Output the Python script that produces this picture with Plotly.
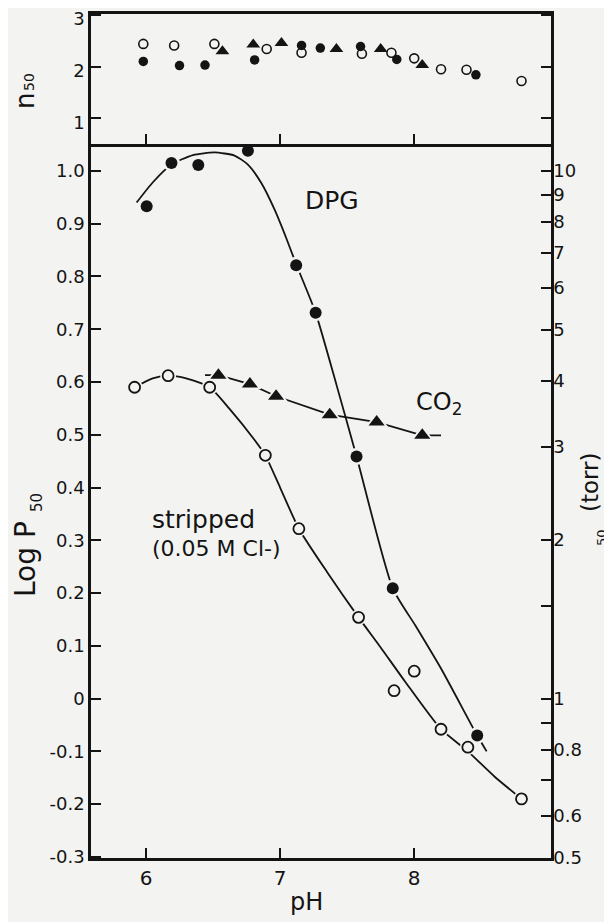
import math
import plotly.graph_objects as go

# ---------------- data ----------------
# top panel: n50 vs pH
n50_strip_ph = [5.98, 6.21, 6.51, 6.90, 7.16, 7.61, 7.83, 8.00, 8.20, 8.39, 8.80]
n50_strip = [2.44, 2.41, 2.44, 2.34, 2.27, 2.25, 2.27, 2.16, 1.95, 1.94, 1.72]
n50_dpg_ph = [5.98, 6.25, 6.44, 6.81, 7.16, 7.30, 7.60, 7.87, 8.46]
n50_dpg = [2.10, 2.02, 2.03, 2.13, 2.41, 2.36, 2.39, 2.14, 1.84]
n50_co2_ph = [6.57, 6.80, 7.01, 7.42, 7.75, 8.06]
n50_co2 = [2.30, 2.43, 2.46, 2.34, 2.34, 2.03]

# main panel: log P50 vs pH
dpg_ph = [6.005, 6.19, 6.39, 6.76, 7.12, 7.265, 7.57, 7.84, 8.47]
dpg_logp = [0.933, 1.015, 1.011, 1.038, 0.821, 0.731, 0.459, 0.209, -0.070]
strip_ph = [5.915, 6.165, 6.475, 6.89, 7.14, 7.585, 7.85, 8.00, 8.20, 8.40, 8.80]
strip_logp = [0.590, 0.612, 0.590, 0.461, 0.322, 0.154, 0.015, 0.052, -0.058, -0.092, -0.190]
co2_ph = [6.54, 6.775, 6.97, 7.37, 7.72, 8.06]
co2_logp = [0.613, 0.596, 0.573, 0.538, 0.524, 0.499]

# drawn curves
dpg_curve_ph = [5.93, 6.05, 6.19, 6.35, 6.51, 6.66, 6.76, 6.86, 6.96, 7.05, 7.12, 7.265, 7.42, 7.57, 7.84, 8.01, 8.20, 8.47, 8.54]
dpg_curve_logp = [0.940, 0.978, 1.012, 1.030, 1.035, 1.029, 1.012, 0.977, 0.926, 0.870, 0.823, 0.731, 0.595, 0.459, 0.209, 0.138, 0.057, -0.070, -0.100]
strip_curve_ph = [5.915, 6.05, 6.165, 6.30, 6.475, 6.62, 6.81, 6.89, 7.00, 7.14, 7.35, 7.585, 7.75, 7.93, 8.20, 8.40, 8.60, 8.80]
strip_curve_logp = [0.590, 0.607, 0.612, 0.607, 0.590, 0.550, 0.490, 0.461, 0.400, 0.322, 0.240, 0.154, 0.097, 0.033, -0.058, -0.100, -0.148, -0.190]
co2_curve_ph = [6.44, 6.54, 6.775, 6.97, 7.37, 7.72, 8.06, 8.20]
co2_curve_logp = [0.613, 0.613, 0.596, 0.573, 0.538, 0.524, 0.499, 0.499]

# axis ticks
x_ticks = [6, 7, 8]
logp_ticks = [1.0, 0.9, 0.8, 0.7, 0.6, 0.5, 0.4, 0.3, 0.2, 0.1, 0.0, -0.1, -0.2, -0.3]
logp_labels = ["1.0", "0.9", "0.8", "0.7", "0.6", "0.5", "0.4", "0.3", "0.2", "0.1", "0", "-0.1", "-0.2", "-0.3"]
p50_ticks = [10, 9, 8, 7, 6, 5, 4, 3, 2, 1.5, 1, 0.9, 0.8, 0.7, 0.6, 0.5]
p50_labels = ["10", "9", "8", "7", "6", "5", "4", "3", "2", " ", "1", " ", "0.8", " ", "0.6", "0.5"]
n50_ticks = [1, 2, 3]

# ---------------- styling ----------------
BG = "#f3f3f1"
INK = "#141414"
FONT = "DejaVu Sans"
X_RANGE = [5.59, 9.02]
Y_RANGE = [-0.302, 1.051]
SPLIT = 0.846
OFF = 8                     # page body margin
W, H = 612 - OFF, 922 - OFF
ML, MR, MT, MB = 91 - OFF, 61, 14 - OFF, 64

fig = go.Figure()


def halo(x, y, size, xa="x", ya="y", symbol="circle"):
    fig.add_trace(go.Scatter(x=x, y=y, mode="markers", xaxis=xa, yaxis=ya,
                             marker=dict(symbol=symbol, size=size, color=BG,
                                         line=dict(width=0)),
                             hoverinfo="skip"))


# curves
for cx, cy in [(dpg_curve_ph, dpg_curve_logp), (strip_curve_ph, strip_curve_logp)]:
    fig.add_trace(go.Scatter(x=cx, y=cy, mode="lines",
                             line=dict(color=INK, width=1.8, shape="spline", smoothing=0.6),
                             hoverinfo="skip"))
fig.add_trace(go.Scatter(x=co2_curve_ph, y=co2_curve_logp, mode="lines",
                         line=dict(color=INK, width=1.8), hoverinfo="skip"))

# halos to break the lines around the symbols
halo(dpg_ph, dpg_logp, 17)
halo(strip_ph, strip_logp, 16)
halo(co2_ph, co2_logp, 20, symbol="triangle-up")

# symbols
fig.add_trace(go.Scatter(x=dpg_ph, y=dpg_logp, mode="markers", name="DPG",
                         marker=dict(symbol="circle", size=12, color=INK, line=dict(width=0))))
fig.add_trace(go.Scatter(x=strip_ph, y=strip_logp, mode="markers", name="stripped",
                         marker=dict(symbol="circle", size=11, color=BG, line=dict(width=1.8, color=INK))))
fig.add_trace(go.Scatter(x=co2_ph, y=co2_logp, mode="markers", name="CO2",
                         marker=dict(symbol="triangle-up", size=14, color=INK, line=dict(width=0))))

# invisible trace for the right (P50) axis
fig.add_trace(go.Scatter(x=[X_RANGE[0]], y=[0], yaxis="y2", mode="markers",
                         marker=dict(opacity=0), hoverinfo="skip"))

# top panel
fig.add_trace(go.Scatter(x=n50_strip_ph, y=n50_strip, xaxis="x2", yaxis="y3", mode="markers",
                         marker=dict(symbol="circle", size=9, color=BG, line=dict(width=1.6, color=INK))))
fig.add_trace(go.Scatter(x=n50_dpg_ph, y=n50_dpg, xaxis="x2", yaxis="y3", mode="markers",
                         marker=dict(symbol="circle", size=9.5, color=INK, line=dict(width=0))))
fig.add_trace(go.Scatter(x=n50_co2_ph, y=n50_co2, xaxis="x2", yaxis="y3", mode="markers",
                         marker=dict(symbol="triangle-up", size=12, color=INK, line=dict(width=0))))

axis_common = dict(showgrid=False, zeroline=False, showline=True, linecolor=INK, linewidth=2.5,
                   ticks="inside", ticklen=10, tickwidth=2, tickcolor=INK, automargin=False)

fig.update_layout(
    width=W, height=H,
    margin=dict(l=ML, r=MR, t=MT, b=MB, autoexpand=False),
    paper_bgcolor=BG, plot_bgcolor=BG,
    showlegend=False,
    font=dict(family=FONT, color=INK),
    xaxis=dict(domain=[0, 1], anchor="y", range=X_RANGE, tickvals=x_ticks,
               ticktext=[str(v) for v in x_ticks], tickfont=dict(size=20), **axis_common),
    yaxis=dict(domain=[0, SPLIT], anchor="x", range=Y_RANGE, tickvals=logp_ticks,
               ticktext=logp_labels, tickfont=dict(size=18), **axis_common),
    yaxis2=dict(overlaying="y", side="right", anchor="x", range=Y_RANGE,
                tickvals=[math.log10(v) for v in p50_ticks], ticktext=p50_labels,
                tickfont=dict(size=18), ticklabelstandoff=-4, ticklabeloverflow="allow",
                **axis_common),
    xaxis2=dict(domain=[0, 1], anchor="y3", matches="x", range=X_RANGE, tickvals=x_ticks,
                showticklabels=False, mirror=True, **axis_common),
    yaxis3=dict(domain=[SPLIT, 1], anchor="x2", range=[0.5, 3.02], tickvals=n50_ticks,
                ticktext=[str(v) for v in n50_ticks], tickfont=dict(size=18),
                ticklabelshift=4, ticklabeloverflow="allow", mirror="ticks", **axis_common),
)

ann = [
    dict(text="DPG", x=7.174, y=0.943, xanchor="left", yanchor="middle", font=dict(size=25)),
    dict(text="CO<sub>2</sub>", x=8.0, y=0.560, xanchor="left", yanchor="middle", font=dict(size=24)),
    dict(text="stripped", x=6.03, y=0.340, xanchor="left", yanchor="middle", font=dict(size=25)),
    dict(text="(0.05 M Cl-)", x=6.03, y=0.285, xanchor="left", yanchor="middle", font=dict(size=22)),
]
for a in ann:
    a.update(xref="x", yref="y", showarrow=False)
fig.update_layout(annotations=ann)


# axis titles placed by window pixels
def px(xp, yp):
    return (xp - OFF - ML) / (W - ML - MR), (H - MB - (yp - OFF)) / (H - MT - MB)


titles = [
    ("Log P", 25, 559, 28, -90),
    ("50", 37, 503, 15, -90),
    ("n", 25, 101, 26, -90),
    ("50", 29, 82, 14, -90),
    ("(torr)", 590, 482, 23, -90),
    ("50", 601, 538, 13, -90),
    ("pH", 306, 902, 24, 0),
]
for t, xp, yp, sz, ang in titles:
    xx, yy = px(xp, yp)
    fig.add_annotation(text=t, x=xx, y=yy, xref="paper", yref="paper", showarrow=False,
                       xanchor="center", yanchor="middle", textangle=ang, font=dict(size=sz))

fig.write_html("out.html")
